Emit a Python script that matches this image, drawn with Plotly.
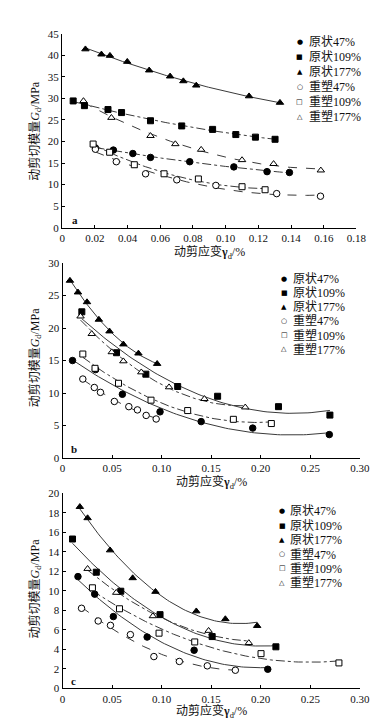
import numpy as np
import plotly.graph_objects as go

W, H = 386, 720
SERIES = ["原状47%", "原状109%", "原状177%", "重塑47%", "重塑109%", "重塑177%"]
SYMBOLS = ["circle", "square", "triangle-up", "circle", "square", "triangle-up"]
FILLED = [True, True, True, False, False, False]
GLYPHS = ["●", "■", "▲", "○", "□", "△"]

# ---- panel a ----
A_U47_X = [0.0203, 0.0313, 0.0432, 0.054, 0.078, 0.105, 0.1253, 0.139]
A_U47_Y = [18.5, 18.0, 17.2, 16.3, 15.3, 14.1, 13.0, 12.8]
A_U109_X = [0.0067, 0.0136, 0.028, 0.0363, 0.054, 0.0731, 0.092, 0.1062, 0.1182, 0.1302]
A_U109_Y = [29.4, 28.3, 27.4, 26.7, 24.8, 23.6, 22.8, 21.6, 21.0, 20.5]
A_U177_X = [0.0142, 0.024, 0.0292, 0.0398, 0.0532, 0.066, 0.0741, 0.082, 0.1143, 0.1332]
A_U177_Y = [41.4, 40.2, 39.9, 38.5, 36.5, 35.1, 34.0, 33.0, 30.5, 29.0]
A_R47_X = [0.0203, 0.0331, 0.051, 0.0701, 0.094, 0.1312, 0.158]
A_R47_Y = [18.2, 15.3, 12.5, 11.1, 9.8, 7.9, 7.3]
A_R109_X = [0.0189, 0.029, 0.0441, 0.0623, 0.0833, 0.11, 0.1241]
A_R109_Y = [19.4, 17.5, 14.6, 12.5, 11.3, 9.5, 8.8]
A_R177_X = [0.013, 0.0301, 0.054, 0.0692, 0.085, 0.11, 0.1293, 0.1582]
A_R177_Y = [29.4, 25.5, 21.3, 19.4, 18.1, 15.7, 14.8, 13.3]

# ---- panel b ----
B_U47_X = [0.0101, 0.0334, 0.0604, 0.0984, 0.1399, 0.1919, 0.2692]
B_U47_Y = [15.0, 13.6, 9.8, 7.1, 5.6, 4.6, 3.6]
B_U109_X = [0.0195, 0.0545, 0.0841, 0.1162, 0.1565, 0.2179, 0.2698]
B_U109_Y = [22.5, 16.2, 12.9, 11.0, 9.5, 7.9, 6.6]
B_U177_X = [0.0075, 0.0156, 0.0247, 0.0367, 0.0474, 0.0614, 0.0766, 0.0955]
B_U177_Y = [27.3, 25.5, 24.0, 21.3, 19.5, 17.5, 16.1, 14.5]
B_R47_X = [0.0205, 0.0321, 0.0383, 0.0523, 0.0669, 0.0756, 0.0844, 0.0945]
B_R47_Y = [12.15, 10.85, 10.1, 8.7, 7.9, 7.4, 6.55, 6.0]
B_R109_X = [0.0205, 0.0328, 0.0565, 0.0893, 0.1263, 0.1724, 0.2107]
B_R109_Y = [16.0, 13.8, 11.5, 8.9, 7.3, 5.95, 5.3]
B_R177_X = [0.0182, 0.0295, 0.0497, 0.0614, 0.0795, 0.1075, 0.1432, 0.1844]
B_R177_Y = [21.8, 19.1, 16.3, 14.9, 13.2, 10.9, 9.1, 7.8]

# ---- panel c ----
C_U47_X = [0.0156, 0.0325, 0.0513, 0.0854, 0.1328, 0.2071]
C_U47_Y = [11.45, 9.65, 7.35, 5.25, 3.9, 1.95]
C_U109_X = [0.0101, 0.0341, 0.0588, 0.0984, 0.151, 0.2153]
C_U109_Y = [15.3, 11.9, 9.95, 7.55, 5.3, 4.25]
C_U177_X = [0.0175, 0.0253, 0.048, 0.0708, 0.0938, 0.135, 0.1643, 0.1964]
C_U177_Y = [18.6, 17.45, 14.15, 11.3, 9.9, 7.9, 7.1, 6.4]
C_R47_X = [0.0192, 0.036, 0.0484, 0.0685, 0.0922, 0.1179, 0.1461, 0.1744]
C_R47_Y = [8.2, 6.9, 6.45, 5.5, 3.25, 2.75, 2.3, 1.85]
C_R109_X = [0.0302, 0.0575, 0.0974, 0.1334, 0.2003, 0.2789]
C_R109_Y = [10.3, 8.15, 5.65, 4.75, 3.55, 2.6]
C_R177_X = [0.0253, 0.0542, 0.0912, 0.1474, 0.188]
C_R177_Y = [12.25, 9.8, 7.4, 5.9, 4.65]

# tick labels
A_XTICKS = [0, 0.02, 0.04, 0.06, 0.08, 0.10, 0.12, 0.14, 0.16, 0.18]
A_XTEXT = ["0", "0.02", "0.04", "0.06", "0.08", "0.10", "0.12", "0.14", "0.16", "0.18"]
BC_XTICKS = [0, 0.05, 0.10, 0.15, 0.20, 0.25, 0.30]
BC_XTEXT = ["0", "0.05", "0.10", "0.15", "0.20", "0.25", "0.30"]
A_YTICKS = [0, 5, 10, 15, 20, 25, 30, 35, 40, 45]
B_YTICKS = [0, 5, 10, 15, 20, 25, 30]
C_YTICKS = [0, 2, 4, 6, 8, 10, 12, 14, 16, 18, 20]
PANEL_LABELS = ["a", "b", "c"]
X_TITLE = "动剪应变<b>γ</b><sub>d</sub>/%"
Y_TITLE = "动剪切模量<i>G</i><sub>d</sub>/MPa"

panels = [
    dict(data=[(A_U47_X, A_U47_Y), (A_U109_X, A_U109_Y), (A_U177_X, A_U177_Y),
               (A_R47_X, A_R47_Y), (A_R109_X, A_R109_Y), (A_R177_X, A_R177_Y)],
         dash=["dashdot", "dashdot", "solid", "dash", "dashdot", "dash"],
         xticks=A_XTICKS, xtext=A_XTEXT, yticks=A_YTICKS,
         xr=[0, 0.18], yr=[0, 45],
         px_x=(53, 357.5), px_y=(20, 217.3),
         xtitle_y=243, ytitle_y=118.5, label_xy=(66.5, 209.5),
         leg_mx=299, leg_tx=306.5, leg_y0=28.3, leg_dy=15.2),
    dict(data=[(B_U47_X, B_U47_Y), (B_U109_X, B_U109_Y), (B_U177_X, B_U177_Y),
               (B_R47_X, B_R47_Y), (B_R109_X, B_R109_Y), (B_R177_X, B_R177_Y)],
         dash=["solid", "solid", "solid", "dash", "dashdot", "dashdot"],
         xticks=BC_XTICKS, xtext=BC_XTEXT, yticks=B_YTICKS,
         xr=[0, 0.30], yr=[0, 30],
         px_x=(53.3, 361), px_y=(253.3, 451.5),
         xtitle_y=476, ytitle_y=349, label_xy=(65, 442),
         leg_mx=282.7, leg_tx=289.5, leg_y0=269.3, leg_dy=14.3),
    dict(data=[(C_U47_X, C_U47_Y), (C_U109_X, C_U109_Y), (C_U177_X, C_U177_Y),
               (C_R47_X, C_R47_Y), (C_R109_X, C_R109_Y), (C_R177_X, C_R177_Y)],
         dash=["solid", "solid", "solid", "dash", "dashdot", "dashdot"],
         xticks=BC_XTICKS, xtext=BC_XTEXT, yticks=C_YTICKS,
         xr=[0, 0.30], yr=[0, 20],
         px_x=(53.3, 361), px_y=(487.3, 685.7),
         xtitle_y=709.5, ytitle_y=584, label_xy=(64.5, 678),
         leg_mx=280.7, leg_tx=287, leg_y0=505.7, leg_dy=14.5),
]

SERIF = "Liberation Serif, Noto Sans CJK SC, serif"
LINE_COLOR = "#3a3a3a"

fig = go.Figure()
annotations = []
layout = {}

for p, P in enumerate(panels):
    sfx = "" if p == 0 else str(p + 1)
    xa, ya = "x" + sfx, "y" + sfx
    for i, (xs, ys) in enumerate(P["data"]):
        xs = np.array(xs); ys = np.array(ys)
        coef = np.polyfit(xs, ys, 2)
        xf = np.linspace(xs.min(), xs.max(), 80)
        fig.add_trace(go.Scatter(x=xf, y=np.polyval(coef, xf), mode="lines",
                                 line=dict(color=LINE_COLOR, width=1, dash=P["dash"][i]),
                                 xaxis=xa, yaxis=ya, showlegend=False, hoverinfo="skip"))
    for i, (xs, ys) in enumerate(P["data"]):
        fig.add_trace(go.Scatter(x=xs, y=ys, mode="markers", name=SERIES[i],
                                 marker=dict(symbol=SYMBOLS[i], size=6.5 if i % 3 != 1 else 6,
                                             color="black" if FILLED[i] else "white",
                                             line=dict(color="black", width=1)),
                                 xaxis=xa, yaxis=ya, showlegend=False))
    x0, x1 = P["px_x"]; yt, yb = P["px_y"]
    layout["xaxis" + sfx] = dict(domain=[x0 / W, x1 / W], range=P["xr"], anchor=ya,
                                 tickvals=P["xticks"], ticktext=P["xtext"],
                                 ticks="inside", ticklen=3, tickwidth=1, tickcolor="black",
                                 showline=True, linecolor="black", linewidth=1.3,
                                 showgrid=False, zeroline=False,
                                 tickfont=dict(family=SERIF, size=11, color="#111"))
    layout["yaxis" + sfx] = dict(domain=[1 - yb / H, 1 - yt / H], range=P["yr"], anchor=xa,
                                 tickvals=P["yticks"],
                                 ticks="inside", ticklen=3, tickwidth=1, tickcolor="black",
                                 showline=True, linecolor="black", linewidth=1.3,
                                 showgrid=False, zeroline=False,
                                 tickfont=dict(family=SERIF, size=11, color="#111"))
    # axis titles
    annotations.append(dict(text=X_TITLE, xref="paper", yref="paper",
                            x=(x0 + x1) / 2 / W, y=1 - P["xtitle_y"] / H,
                            xanchor="center", yanchor="middle", showarrow=False,
                            font=dict(family=SERIF, size=12, color="#111")))
    annotations.append(dict(text=Y_TITLE, xref="paper", yref="paper",
                            x=25 / W, y=1 - P["ytitle_y"] / H, textangle=-90,
                            xanchor="center", yanchor="middle", showarrow=False,
                            font=dict(family=SERIF, size=12, color="#111")))
    lx, ly = P["label_xy"]
    annotations.append(dict(text="<b>" + PANEL_LABELS[p] + "</b>", xref="paper", yref="paper",
                            x=lx / W, y=1 - ly / H, xanchor="center", yanchor="middle",
                            showarrow=False, font=dict(family=SERIF, size=11, color="#111")))
    # legend rows
    for i, name in enumerate(SERIES):
        yy = 1 - (P["leg_y0"] + i * P["leg_dy"]) / H
        annotations.append(dict(text=GLYPHS[i], xref="paper", yref="paper",
                                x=P["leg_mx"] / W, y=yy, xanchor="center", yanchor="middle",
                                showarrow=False, font=dict(family="DejaVu Sans", size=7, color="black")))
        annotations.append(dict(text=name, xref="paper", yref="paper",
                                x=P["leg_tx"] / W, y=yy, xanchor="left", yanchor="middle",
                                showarrow=False, font=dict(family=SERIF, size=12, color="#111")))

fig.update_layout(width=W, height=H, margin=dict(l=0, r=0, t=0, b=0),
                  paper_bgcolor="white", plot_bgcolor="white",
                  showlegend=False, annotations=annotations, **layout)
fig.write_html("out.html")
